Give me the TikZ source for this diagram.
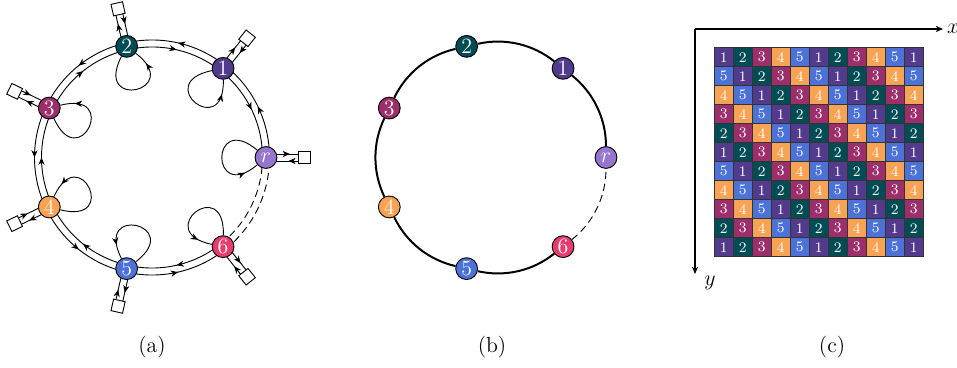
\documentclass[tikz,border=0pt]{standalone}
\usetikzlibrary{arrows.meta, decorations.markings, backgrounds, calc}

\definecolor{cr}{RGB}{150,117,206}
\definecolor{c1}{RGB}{82,58,140}
\definecolor{c2}{RGB}{0,76,84}
\definecolor{c3}{RGB}{156,46,108}
\definecolor{c4}{RGB}{248,162,84}
\definecolor{c5}{RGB}{76,114,216}
\definecolor{c6}{RGB}{232,60,110}

\begin{document}
\begin{tikzpicture}[
		x=0.55pt, y=0.55pt,
		% Estilos de nodos, puertos y celdas
		vtx/.style = {draw, circle, minimum size=12pt, inner sep=0pt, text=white, line width=0.5pt, font=\large},
		port/.style = {draw, fill=white, rectangle, minimum size=6.5pt, inner sep=0pt, line width=0.5pt},
		cell/.style = {draw=black!80, rectangle, minimum size=10.45pt, inner sep=0pt, text=white, font=\footnotesize, line width=0.35pt},
		wire/.style = {line width=0.5pt},
		ring/.style = {line width=1.1pt},
		gap/.style = {line width=0.5pt, dash pattern=on 4pt off 2.5pt},
		flowmark/.style = {postaction={decorate}, decoration={markings, mark=at position #1 with {\arrow{>}}}},
		arc/.style = {bend right=25.71, looseness=0.9},
		arcback/.style = {bend left=25.71, looseness=0.9},
		>={Stealth[length=4pt, width=3.4pt, inset=1.2pt]}
		]
		
		\useasboundingbox (0,0) rectangle (957,367);
		
		% --- (a) ANILLO CON BUCLES Y PUERTOS ---
		\coordinate (ca) at (152,209.5);
		\foreach \n/\ang/\col/\lab in {r/0/cr/$r$, 1/51.43/c1/1, 2/102.86/c2/2, 3/154.29/c3/3, 4/205.71/c4/4, 5/257.14/c5/5, 6/308.57/c6/6} {
			\node [vtx, fill=\col] (a\n) at ($(ca)+(\ang:114)$) {\lab};
			\node [port, rotate=\ang] (s\n) at ($(ca)+(\ang:152.5)$) {};
			\coordinate (a\n-out) at ($(ca)+(\ang:117.5)$);
			\coordinate (a\n-in) at ($(ca)+(\ang:110.5)$);
			\coordinate (a\n-l) at ($(a\n)+(\ang+90:3.5)$);
			\coordinate (a\n-r) at ($(a\n)+(\ang-90:3.5)$);
			\coordinate (s\n-l) at ($(s\n)+(\ang+90:3.5)$);
			\coordinate (s\n-r) at ($(s\n)+(\ang-90:3.5)$);
			% Bucle propio hacia el interior
			\draw [wire, flowmark=0.85] (a\n) to[out=\ang+140, in=\ang+220, min distance=34pt] (a\n);
		}
		
		\begin{scope}[on background layer]
			% Tramos dobles del anillo
			\foreach \p/\q in {r/1, 1/2, 2/3, 3/4, 4/5, 5/6} {
				\draw [wire, flowmark=0.5] (a\p-out) to[arc] (a\q-out);
				\draw [wire, flowmark=0.5] (a\q-in) to[arcback] (a\p-in);
			}
			\draw [gap] (a6-out) to[arc] (ar-out);
			\draw [gap] (a6-in) to[arc] (ar-in);
			% Enlaces con los puertos externos
			\foreach \n in {r,1,2,3,4,5,6} {
				\draw [wire, flowmark=0.62] (a\n-l) -- (s\n-l);
				\draw [wire, flowmark=0.42] (s\n-r) -- (a\n-r);
			}
		\end{scope}
		
		% --- (b) ANILLO SIMPLE ---
		\coordinate (cb) at (492,209.5);
		\foreach \n/\ang/\col/\lab in {r/0/cr/$r$, 1/51.43/c1/1, 2/102.86/c2/2, 3/154.29/c3/3, 4/205.71/c4/4, 5/257.14/c5/5, 6/308.57/c6/6} {
			\node [vtx, fill=\col] (b\n) at ($(cb)+(\ang:114)$) {\lab};
		}
		\begin{scope}[on background layer]
			\foreach \p/\q in {r/1, 1/2, 2/3, 3/4, 4/5, 5/6}
				\draw [ring] (b\p) to[arc] (b\q);
			\draw [gap] (b6) to[arc] (br);
		\end{scope}
		
		% --- (c) REJILLA DE ASIGNACION ---
		\coordinate (orig) at (695,338);
		\coordinate (xend) at (943,338);
		\coordinate (yend) at (695,93);
		\draw [line width=0.6pt, ->] (orig) -- (xend);
		\draw [line width=0.6pt, ->] (orig) -- (yend);
		\node [anchor=west, inner sep=2pt, font=\large] (xlab) at (xend) {$x$};
		\node [anchor=north west, inner sep=1pt, xshift=4pt, font=\large] (ylab) at (yend) {$y$};
		
		\foreach \i in {0,...,10} {
			\foreach \j in {0,...,10} {
				\pgfmathtruncatemacro{\v}{mod(\j-\i+10,5)+1}
				\node [cell, fill=c\v] (g\i-\j) at (723.8+19*\j, 309.8-19*\i) {\v};
			}
		}
		
		% --- ETIQUETAS ---
		\node [font=\large] (lab-a) at (152,20) {(a)};
		\node [font=\large] (lab-b) at (492,20) {(b)};
		\node [font=\large] (lab-c) at (832,20) {(c)};
		
	\end{tikzpicture}
\end{document}
